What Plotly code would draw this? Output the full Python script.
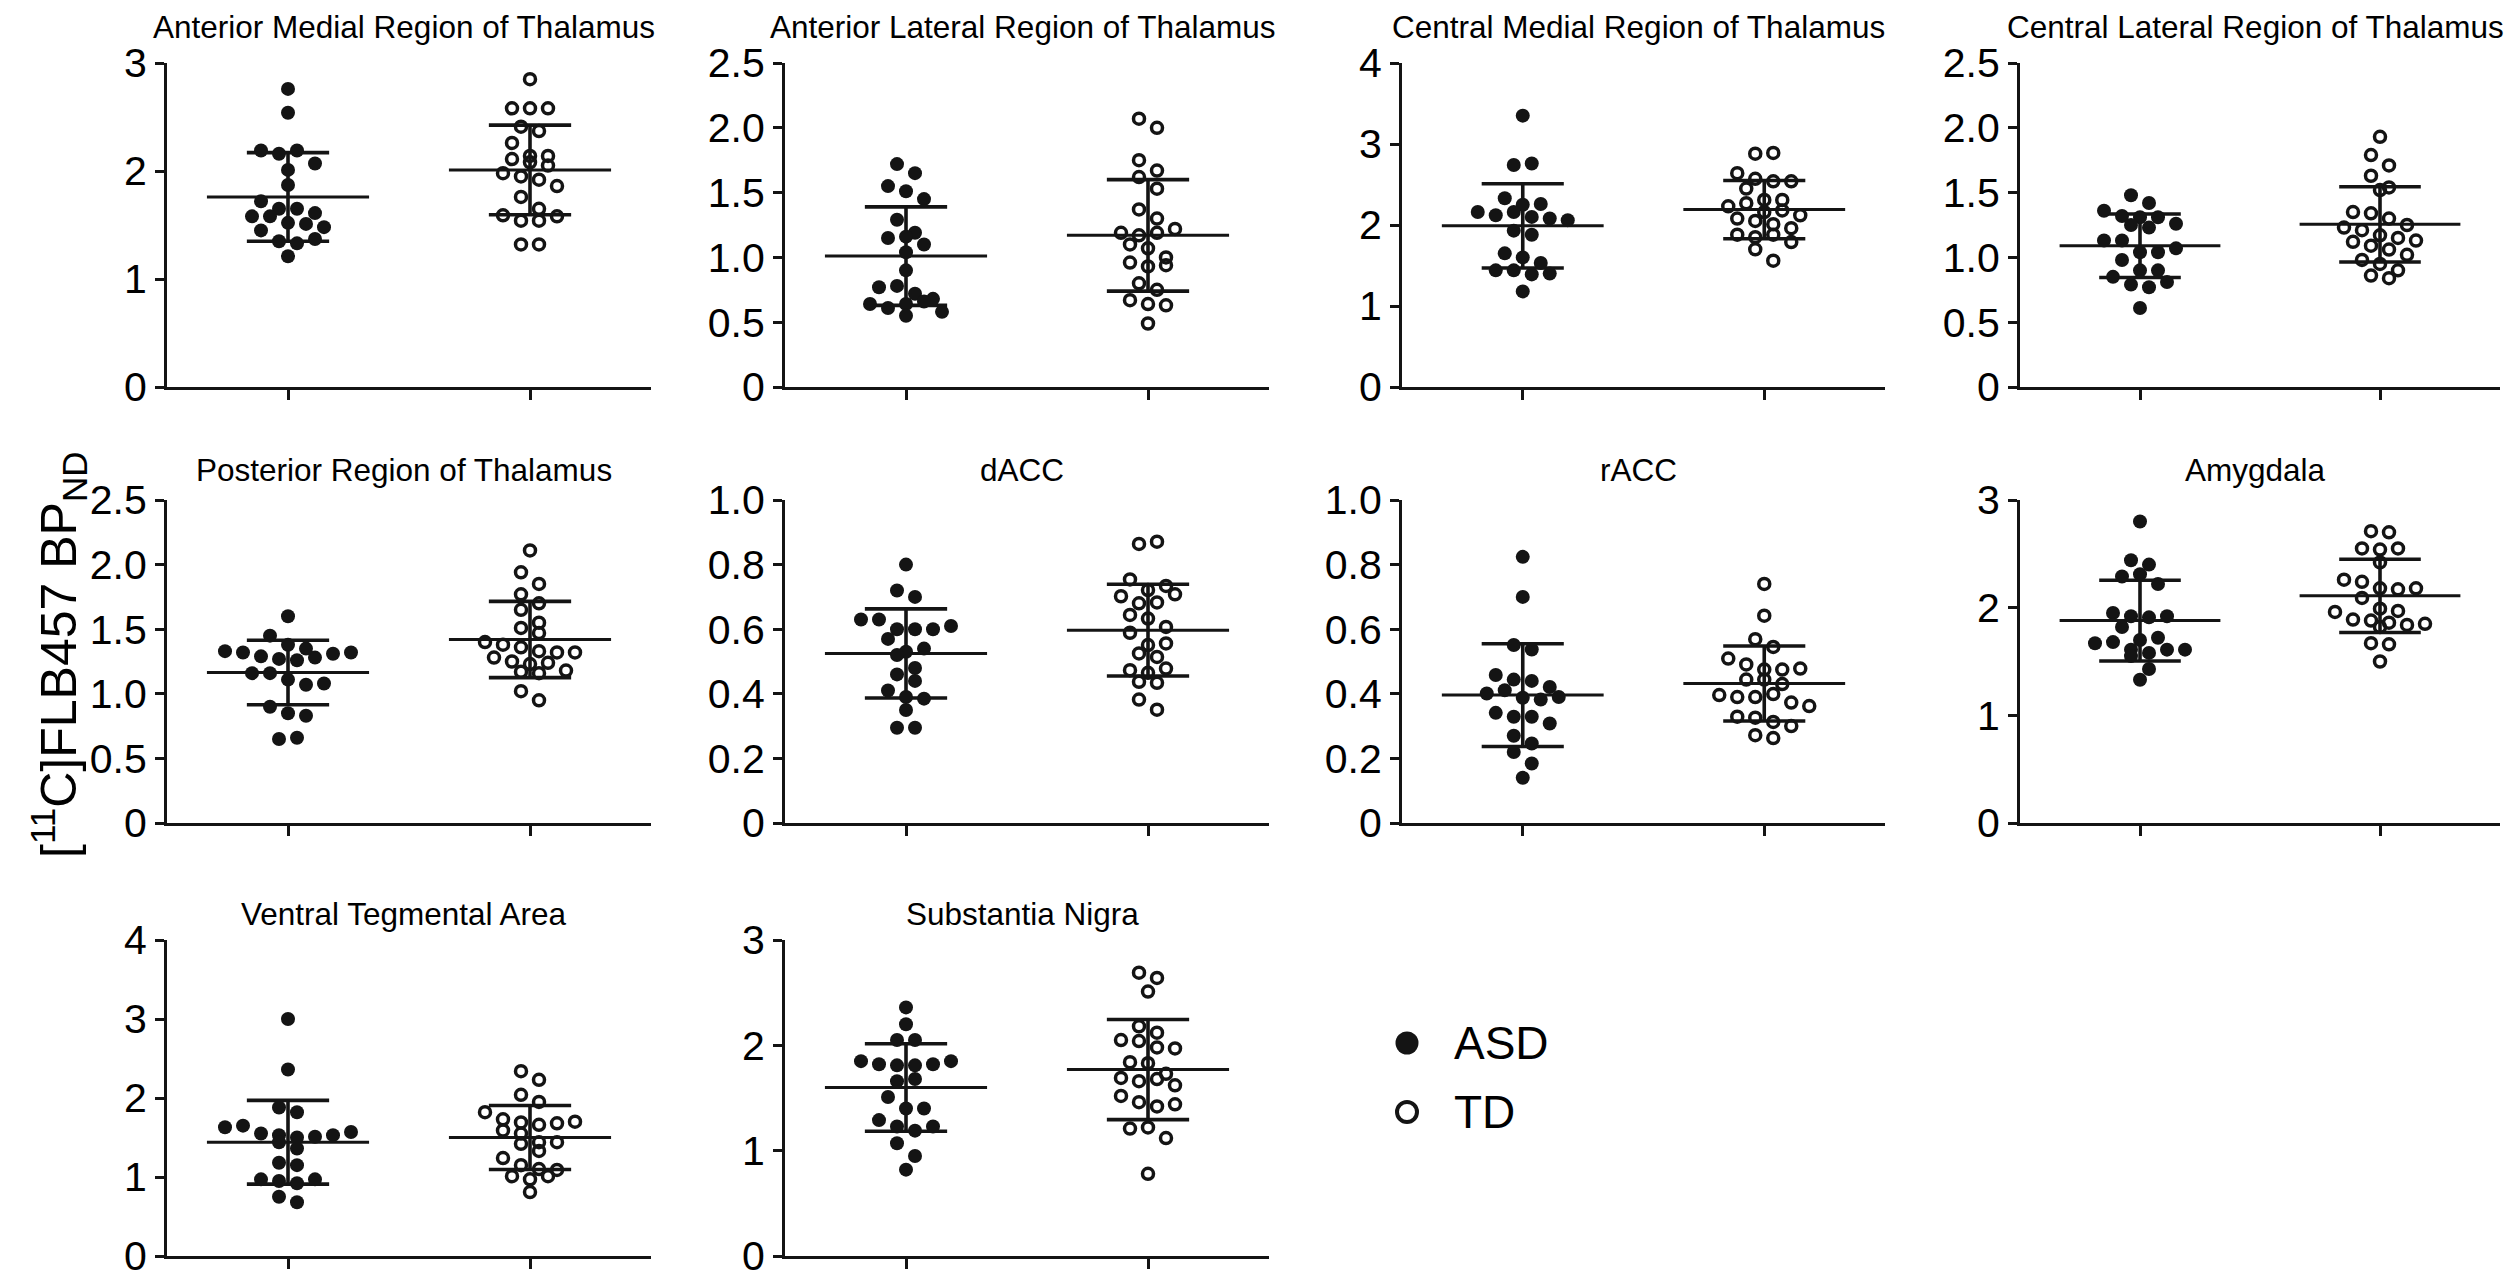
import numpy as np
import plotly.graph_objects as go

W, H = 2509, 1283

# ---------------- data ----------------
titles = ["Anterior Medial Region of Thalamus", "Anterior Lateral Region of Thalamus",
          "Central Medial Region of Thalamus", "Central Lateral Region of Thalamus",
          "Posterior Region of Thalamus", "dACC", "rACC", "Amygdala",
          "Ventral Tegmental Area", "Substantia Nigra"]
groups = ["ASD", "TD"]

asd_ant_med = [2.76, 2.54, 2.19, 2.16, 2.19, 2.07, 2.01, 1.87, 1.72, 1.65, 1.65, 1.58, 1.58, 1.61, 1.52, 1.51, 1.48, 1.45, 1.35, 1.33, 1.37, 1.21]
td_ant_med = [2.85, 2.58, 2.58, 2.58, 2.41, 2.37, 2.26, 2.14, 2.14, 2.11, 2.08, 2.05, 1.98, 1.95, 1.92, 1.86, 1.76, 1.65, 1.59, 1.54, 1.54, 1.58, 1.32, 1.32]

asd_ant_lat = [1.72, 1.65, 1.55, 1.51, 1.45, 1.29, 1.19, 1.15, 1.16, 1.10, 1.04, 0.90, 0.77, 0.78, 0.72, 0.68, 0.64, 0.61, 0.64, 0.66, 0.58, 0.55]
td_ant_lat = [2.07, 2.00, 1.75, 1.62, 1.67, 1.53, 1.37, 1.30, 1.19, 1.17, 1.19, 1.22, 1.10, 1.07, 1.00, 0.96, 0.93, 0.94, 0.80, 0.75, 0.67, 0.64, 0.63, 0.49]

asd_cen_med = [3.35, 2.74, 2.76, 2.33, 2.25, 2.26, 2.16, 2.12, 2.16, 2.10, 2.08, 2.06, 1.93, 1.88, 1.65, 1.60, 1.53, 1.44, 1.44, 1.39, 1.18, 1.40]
td_cen_med = [2.88, 2.89, 2.64, 2.57, 2.54, 2.54, 2.45, 2.31, 2.31, 2.23, 2.27, 2.16, 2.18, 2.12, 2.08, 2.05, 2.01, 1.96, 1.88, 1.85, 1.88, 1.79, 1.70, 1.56]

asd_cen_lat = [1.48, 1.42, 1.36, 1.32, 1.31, 1.31, 1.25, 1.23, 1.26, 1.13, 1.13, 1.04, 1.04, 1.07, 0.98, 0.90, 0.90, 0.85, 0.79, 0.77, 0.81, 0.61]
td_cen_lat = [1.93, 1.79, 1.71, 1.63, 1.54, 1.52, 1.35, 1.34, 1.30, 1.23, 1.25, 1.21, 1.17, 1.15, 1.13, 1.12, 1.09, 1.06, 1.02, 0.98, 0.95, 0.90, 0.86, 0.84]

asd_post = [1.60, 1.45, 1.38, 1.33, 1.32, 1.29, 1.27, 1.26, 1.28, 1.31, 1.32, 1.35, 1.16, 1.16, 1.11, 1.07, 1.08, 0.90, 0.85, 0.83, 0.65, 0.66]
td_post = [2.11, 1.94, 1.85, 1.77, 1.70, 1.65, 1.55, 1.51, 1.47, 1.40, 1.38, 1.36, 1.33, 1.32, 1.32, 1.28, 1.25, 1.23, 1.24, 1.17, 1.16, 1.18, 1.02, 0.95]

asd_dacc = [0.80, 0.72, 0.70, 0.63, 0.63, 0.60, 0.60, 0.60, 0.61, 0.57, 0.53, 0.52, 0.54, 0.48, 0.46, 0.44, 0.41, 0.39, 0.385, 0.35, 0.295, 0.295]
td_dacc = [0.864, 0.871, 0.754, 0.721, 0.734, 0.702, 0.680, 0.683, 0.708, 0.644, 0.633, 0.607, 0.589, 0.551, 0.556, 0.525, 0.514, 0.473, 0.465, 0.478, 0.437, 0.434, 0.382, 0.351]

asd_racc = [0.824, 0.700, 0.551, 0.537, 0.458, 0.444, 0.440, 0.421, 0.401, 0.411, 0.388, 0.382, 0.390, 0.341, 0.329, 0.329, 0.308, 0.270, 0.246, 0.220, 0.184, 0.140]
td_racc = [0.740, 0.642, 0.569, 0.545, 0.509, 0.491, 0.475, 0.475, 0.478, 0.444, 0.444, 0.430, 0.396, 0.390, 0.390, 0.399, 0.373, 0.362, 0.329, 0.326, 0.313, 0.300, 0.272, 0.263]

asd_amyg = [2.80, 2.44, 2.40, 2.29, 2.31, 2.22, 1.95, 1.92, 1.91, 1.92, 1.82, 1.70, 1.67, 1.72, 1.68, 1.61, 1.58, 1.61, 1.61, 1.55, 1.43, 1.33]
td_amyg = [2.71, 2.70, 2.55, 2.54, 2.55, 2.42, 2.26, 2.24, 2.18, 2.17, 2.18, 2.09, 1.99, 1.97, 1.96, 1.89, 1.88, 1.86, 1.84, 1.85, 1.82, 1.67, 1.66, 1.50]

asd_vta = [3.00, 2.36, 1.88, 1.82, 1.63, 1.65, 1.55, 1.53, 1.50, 1.51, 1.53, 1.57, 1.44, 1.36, 1.18, 1.15, 0.97, 0.95, 0.92, 0.97, 0.75, 0.68]
td_vta = [2.34, 2.23, 2.04, 1.95, 1.82, 1.73, 1.69, 1.66, 1.68, 1.70, 1.59, 1.55, 1.44, 1.42, 1.44, 1.33, 1.24, 1.15, 1.10, 1.09, 1.01, 0.97, 1.01, 0.81]

asd_sn = [2.36, 2.20, 2.05, 2.05, 1.85, 1.82, 1.81, 1.81, 1.82, 1.85, 1.66, 1.68, 1.51, 1.40, 1.40, 1.29, 1.23, 1.19, 1.23, 1.07, 0.95, 0.82]
td_sn = [2.69, 2.64, 2.51, 2.18, 2.12, 2.05, 2.04, 1.98, 1.97, 1.84, 1.83, 1.69, 1.73, 1.66, 1.68, 1.62, 1.52, 1.46, 1.42, 1.44, 1.21, 1.22, 1.12, 0.78]

# mean and SD bars as drawn in the picture
asd_mean = [1.76, 1.01, 1.99, 1.09, 1.165, 0.525, 0.396, 1.88, 1.44, 1.60]
asd_sd = [0.41, 0.38, 0.52, 0.245, 0.25, 0.138, 0.159, 0.375, 0.53, 0.415]
td_mean = [2.01, 1.17, 2.19, 1.255, 1.42, 0.597, 0.432, 2.11, 1.50, 1.77]
td_sd = [0.415, 0.43, 0.36, 0.29, 0.295, 0.142, 0.116, 0.34, 0.405, 0.475]

y_max = [3, 2.5, 4, 2.5, 2.5, 1.0, 1.0, 3, 4, 3]
ticks_int3 = ["0", "1", "2", "3"]
ticks_int4 = ["0", "1", "2", "3", "4"]
ticks_half = ["0", "0.5", "1.0", "1.5", "2.0", "2.5"]
ticks_fifth = ["0", "0.2", "0.4", "0.6", "0.8", "1.0"]
tick_labels = [ticks_int3, ticks_half, ticks_int4, ticks_half, ticks_half,
               ticks_fifth, ticks_fifth, ticks_int3, ticks_int4, ticks_int3]

asd_sets = [asd_ant_med, asd_ant_lat, asd_cen_med, asd_cen_lat, asd_post,
            asd_dacc, asd_racc, asd_amyg, asd_vta, asd_sn]
td_sets = [td_ant_med, td_ant_lat, td_cen_med, td_cen_lat, td_post,
           td_dacc, td_racc, td_amyg, td_vta, td_sn]

# ---------------- layout geometry (pixels) ----------------
col_px = [(167, 651), (785, 1269), (1402, 1885), (2020, 2500)]
row_px = [(63, 387), (500, 823), (940, 1256)]
title_y_px = [27, 470, 914]

FONT = "Arial, Liberation Sans, Helvetica, sans-serif"
INK = "#141414"


def swarm(vals, yppu, xppu, band_px=13.0, gap_px=18.0):
    """Prism-like scatter-dot layout: consecutive values (sorted) that lie
    within one marker height are put side by side in a row centred on the
    column."""
    vals = np.asarray(vals, dtype=float)
    order = np.argsort(-vals, kind="stable")
    offs = np.zeros(len(vals))
    bands, cur, start = [], [], None
    for i in order:
        if cur and (start - vals[i]) * yppu > band_px:
            bands.append(cur)
            cur = []
        if not cur:
            start = vals[i]
        cur.append(i)
    if cur:
        bands.append(cur)
    for b in bands:
        b = sorted(b)
        n = len(b)
        for j, i in enumerate(b):
            offs[i] = (j - (n - 1) / 2.0) * gap_px / xppu
    return offs


fig = go.Figure()
layout = dict(width=W, height=H, autosize=False,
              margin=dict(l=0, r=0, t=0, b=0, pad=0, autoexpand=False),
              paper_bgcolor="white", plot_bgcolor="white", showlegend=False,
              font=dict(family=FONT, color="black"))
annotations = []

for p in range(10):
    r, c = divmod(p, 4)
    x0, x1 = col_px[c]
    y0, y1 = row_px[r]
    ax = "" if p == 0 else str(p + 1)
    xa, ya = "x" + ax, "y" + ax
    xppu = (x1 - x0) / 2.0
    yppu = (y1 - y0) / y_max[p]

    layout["xaxis" + ax] = dict(
        domain=[x0 / W, x1 / W], range=[-0.5, 1.5], anchor=ya,
        showline=True, linewidth=3, linecolor=INK, showgrid=False, zeroline=False,
        tickvals=[0, 1], showticklabels=False, ticks="outside", ticklen=10,
        tickwidth=3, tickcolor=INK, fixedrange=True, automargin=False)
    n_t = len(tick_labels[p])
    layout["yaxis" + ax] = dict(
        domain=[1 - y1 / H, 1 - y0 / H], range=[0, y_max[p]], anchor=xa,
        showline=True, linewidth=3, linecolor=INK, showgrid=False, zeroline=False,
        tickvals=list(np.linspace(0, y_max[p], n_t)), ticktext=tick_labels[p],
        ticks="outside", ticklen=9, tickwidth=3, tickcolor=INK,
        tickfont=dict(size=41, family=FONT, color="black"), fixedrange=True,
        automargin=False, ticklabeloverflow="allow")

    for g, vals in enumerate([asd_sets[p], td_sets[p]]):
        offs = swarm(vals, yppu, xppu)
        if g == 0:
            marker = dict(symbol="circle", size=14, color=INK, line=dict(width=0))
        else:
            marker = dict(symbol="circle-open", size=11, color=INK,
                          line=dict(width=3.5, color=INK))
        fig.add_trace(go.Scatter(x=g + offs, y=vals, mode="markers", marker=marker,
                                 xaxis=xa, yaxis=ya, cliponaxis=False,
                                 name=groups[g], hoverinfo="y"))
    # mean / SD bars drawn on top of the dots
    for g, (mean, sd) in enumerate([(asd_mean[p], asd_sd[p]), (td_mean[p], td_sd[p])]):
        fig.add_trace(go.Scatter(x=[g - 0.335, g + 0.335], y=[mean, mean], mode="lines",
                                 line=dict(color=INK, width=3), xaxis=xa, yaxis=ya,
                                 cliponaxis=False, hoverinfo="skip"))
        fig.add_trace(go.Scatter(
            x=[g - 0.17, g + 0.17, None, g, g, None, g - 0.17, g + 0.17],
            y=[mean + sd, mean + sd, None, mean + sd, mean - sd, None, mean - sd, mean - sd],
            mode="lines", line=dict(color=INK, width=3.6), xaxis=xa, yaxis=ya,
            cliponaxis=False, hoverinfo="skip"))

    annotations.append(dict(text=titles[p], x=((x0 + x1) / 2 - 5) / W,
                            y=1 - title_y_px[r] / H, xref="paper", yref="paper",
                            xanchor="center", yanchor="middle", showarrow=False,
                            font=dict(size=31.5, family=FONT, color="black")))

# legend drawn on its own hidden axes (pixel-like units)
layout["xaxis11"] = dict(domain=[1380 / W, 1600 / W], range=[0, 220], visible=False,
                         anchor="y11", fixedrange=True)
layout["yaxis11"] = dict(domain=[1 - 1145 / H, 1 - 1010 / H], range=[135, 0], visible=False,
                         anchor="x11", fixedrange=True)
fig.add_trace(go.Scatter(x=[27], y=[33], mode="markers", xaxis="x11", yaxis="y11",
                         marker=dict(symbol="circle", size=23, color=INK), hoverinfo="skip"))
fig.add_trace(go.Scatter(x=[27], y=[102], mode="markers", xaxis="x11", yaxis="y11",
                         marker=dict(symbol="circle-open", size=20, color=INK,
                                     line=dict(width=4, color=INK)), hoverinfo="skip"))
for lbl, yy in zip(groups, [33, 102]):
    annotations.append(dict(text=lbl, x=72, y=yy, xref="x11", yref="y11",
                            xanchor="left", yanchor="middle", showarrow=False,
                            font=dict(size=46, family=FONT, color="black")))

annotations.append(dict(text="[<sup>11</sup>C]FLB457 BP<sub>ND</sub>", textangle=-90,
                        x=58 / W, y=1 - 655 / H, xref="paper", yref="paper",
                        xanchor="center", yanchor="middle", showarrow=False,
                        font=dict(size=50, family=FONT, color="black")))

layout["annotations"] = annotations
fig.update_layout(**layout)
fig.write_html("out.html")
